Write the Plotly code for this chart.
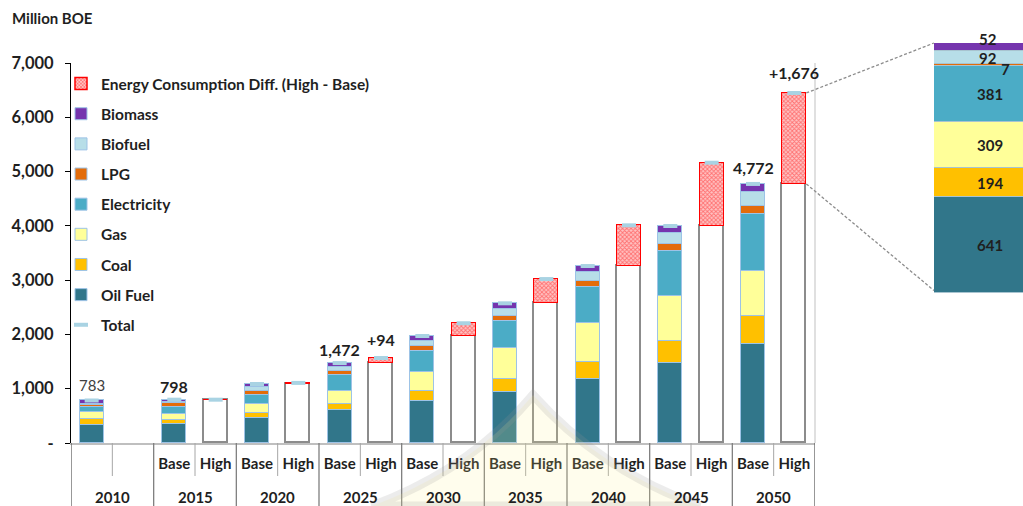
import plotly.graph_objects as go

# ---------------- data ----------------
years = ["2010", "2015", "2020", "2025", "2030", "2035", "2040", "2045", "2050"]
scenarios = ["", "", "Base", "High", "Base", "High", "Base", "High", "Base", "High",
             "Base", "High", "Base", "High", "Base", "High", "Base", "High"]

oil_fuel    = [326, 350, 455, 608, 780, 945, 1179, 1468, 1818]
coal        = [122, 74, 92, 110, 172, 234, 319, 417, 521]
gas         = [129, 104, 171, 234, 362, 565, 718, 823, 829]
electricity = [80, 129, 166, 295, 381, 503, 651, 829, 1044]
lpg         = [48, 74, 79, 79, 92, 92, 117, 129, 160]
biofuel     = [19, 19, 74, 68, 92, 129, 160, 208, 250]
biomass     = [59, 48, 50, 78, 92, 105, 116, 123, 150]

# High scenario difference above Base (2010 has no High scenario)
diff_high = [None, 0, 20, 94, 235, 447, 750, 1166, 1676]

breakdown_names = ["Oil Fuel", "Coal", "Gas", "Electricity", "LPG", "Biofuel", "Biomass"]
breakdown_2050 = [641, 194, 309, 381, 7, 92, 52]

value_labels = ["783", "798", "1,472", "+94", "4,772", "+1,676"]

yticks = [0, 1000, 2000, 3000, 4000, 5000, 6000, 7000]
yticktext = ["-", "1,000", "2,000", "3,000", "4,000", "5,000", "6,000", "7,000"]

# ---------------- layout geometry ----------------
W, H = 1023, 506
ML, MR, MT, MB = 71, 0, 30, 63
PW, PH = W - ML - MR, H - MT - MB


def px_x(px):
    return (px - ML) / PW


def px_y(py):
    return (H - MB - py) / PH


YMAX = 7000
NSLOT = 18
XDOM = [0, px_x(815)]
YDOM = [0, px_y(63)]
X2DOM = [px_x(934), 1]
Y2DOM = [px_y(293), px_y(43)]
BW = 0.58

FONT = "Lato"
TXT = "#1f1f1f"

colors = {
    "Oil Fuel": "#31768A",
    "Coal": "#FFC000",
    "Gas": "#FFFF99",
    "Electricity": "#4BACC6",
    "LPG": "#E36C0A",
    "Biofuel": "#B7DEE8",
    "Biomass": "#7535AE",
}

series = [("Oil Fuel", oil_fuel), ("Coal", coal), ("Gas", gas), ("Electricity", electricity),
          ("LPG", lpg), ("Biofuel", biofuel), ("Biomass", biomass)]
rank = {"Biomass": 2, "Biofuel": 3, "LPG": 4, "Electricity": 5, "Gas": 6, "Coal": 7, "Oil Fuel": 8}

base_x = [2 * g for g in range(len(years))]
base_tot = [sum(s[1][g] for s in series) for g in range(len(years))]

fig = go.Figure()

for name, vals in series:
    fig.add_trace(go.Bar(
        x=base_x, y=vals, width=BW, name=name, legendgroup=name, legendrank=rank[name],
        marker=dict(color=colors[name], line=dict(color="#9DC3E6", width=1)),
        hoverinfo="x+y+name",
    ))

high_x = [2 * g + 1 for g in range(1, len(years))]
high_white = [base_tot[g] for g in range(1, len(years))]
high_diff = [diff_high[g] for g in range(1, len(years))]

fig.add_trace(go.Bar(
    x=high_x, y=high_white, width=BW, name="High (Base level)", showlegend=False,
    marker=dict(color="white", line=dict(color="#8C8C8C", width=1.8)),
))
fig.add_trace(go.Bar(
    x=high_x, y=high_diff, width=BW, name="Energy Consumption Diff. (High - Base)",
    legendgroup="diff", legendrank=1,
    marker=dict(color="#FF7070", line=dict(color="#FF0000", width=1.5),
                pattern=dict(shape="x", fgcolor="#FF1A1A", bgcolor="#FFC4C4", size=3, solidity=0.5)),
))

tot_x = base_x + high_x
tot_y = base_tot + [base_tot[g] + diff_high[g] for g in range(1, len(years))]
fig.add_trace(go.Scatter(
    x=tot_x, y=tot_y, mode="markers", name="Total", legendgroup="total", legendrank=9,
    marker=dict(symbol="line-ew", size=10, color="#B7DEE8",
                line=dict(color="#A9D3E3", width=4)),
))

# ---- 2050 breakdown panel ----
for name, v in zip(breakdown_names, breakdown_2050):
    fig.add_trace(go.Bar(
        x=[0], y=[v], width=1, xaxis="x2", yaxis="y2", showlegend=False, name=name,
        marker=dict(color=colors[name], line=dict(color="#A8C4D0", width=1)),
    ))

annotations = []
# panel labels
cum = 0
for i, (name, v) in enumerate(zip(breakdown_names, breakdown_2050)):
    mid = cum + v / 2
    cum += v
    txt = str(v)
    a = dict(xref="paper", yref="y2", x=px_x(983), y=mid, text=txt, showarrow=False,
             xanchor="center", xshift=round(2.3 * len(txt)),
             font=dict(family=FONT, size=15, color=TXT, weight="bold"))
    if name == "LPG":
        a.update(x=px_x(1003), y=cum, yshift=-5)
    elif name == "Biomass":
        a.update(y=cum, yshift=4)
    annotations.append(a)

# value labels on main chart
lab_pos = [(0, 1068), (2, 1050), (6, 1731), (7, 1915), (16, 5084), (17, 6834)]
for (xs, yv), t in zip(lab_pos, value_labels):
    if t == "783":
        f = dict(family=FONT, size=15, color="#404040")
    else:
        f = dict(family=FONT, size=16, color=TXT, weight="bold")
    annotations.append(dict(xref="x", yref="y", x=xs, y=yv, text=t, showarrow=False, font=f))

# year labels
for g, yr in enumerate(years):
    annotations.append(dict(xref="x", yref="paper", x=2 * g + 0.5, y=px_y(497), text=yr,
                            showarrow=False, yanchor="middle",
                            font=dict(family=FONT, size=15, color=TXT, weight="bold")))

annotations.append(dict(xref="paper", yref="paper", x=px_x(10), y=px_y(18), text="Million BOE",
                        xanchor="left", yanchor="middle", showarrow=False,
                        font=dict(family=FONT, size=15, color=TXT, weight="bold")))

shapes = []
# separators under the axis
for k in range(NSLOT + 1):
    xb = k - 0.5
    if k % 2 == 0:
        shapes.append(dict(type="line", xref="x", yref="paper", x0=xb, x1=xb,
                           y0=px_y(443), y1=px_y(506),
                           line=dict(color="#7F7F7F" if 0 < k < NSLOT else "#606060", width=1.3)))
    else:
        shapes.append(dict(type="line", xref="x", yref="paper", x0=xb, x1=xb,
                           y0=px_y(443), y1=px_y(476), line=dict(color="#A6A6A6", width=1)))
# right border of plot area
shapes.append(dict(type="line", xref="paper", yref="paper", x0=XDOM[1], x1=XDOM[1],
                   y0=0, y1=YDOM[1], line=dict(color="#D0D0D0", width=1.3)))


# dashed connectors to breakdown panel
def xpaper(xv):
    return XDOM[0] + (xv + 0.5) / NSLOT * (XDOM[1] - XDOM[0])


def ypaper(yv):
    return YDOM[0] + yv / YMAX * (YDOM[1] - YDOM[0])


last = NSLOT - 1
top_high = base_tot[-1] + diff_high[-1]
shapes.append(dict(type="line", xref="paper", yref="paper",
                   x0=xpaper(last + BW / 2), y0=ypaper(top_high), x1=X2DOM[0], y1=Y2DOM[1],
                   line=dict(color="#8C8C8C", width=1.3, dash="3px,2px")))
shapes.append(dict(type="line", xref="paper", yref="paper",
                   x0=xpaper(last + BW / 2), y0=ypaper(base_tot[-1]), x1=X2DOM[0], y1=Y2DOM[0] + 0.006,
                   line=dict(color="#8C8C8C", width=1.3, dash="3px,2px")))


# faint background watermark (dome outline) seen in the source image
def pth(points):
    s = ""
    for cmd, pts in points:
        s += cmd + " " + " ".join(f"{px_x(a):.4f},{px_y(b):.4f}" for a, b in pts) + " "
    return s + "Z"


dome = pth([("M", [(372, 506)]), ("Q", [(470, 470), (533, 395)]), ("Q", [(600, 470), (700, 506)])])
shapes.append(dict(type="path", xref="paper", yref="paper", path=dome, layer="above",
                   fillcolor="rgba(255,240,140,0.16)", line=dict(color="rgba(150,150,150,0.18)", width=9)))

fig.update_layout(
    width=W, height=H,
    margin=dict(l=ML, r=MR, t=MT, b=MB, pad=0),
    barmode="stack",
    plot_bgcolor="white", paper_bgcolor="white",
    font=dict(family=FONT, color=TXT),
    xaxis=dict(domain=XDOM, range=[-0.5, NSLOT - 0.5], tickmode="array",
               tickvals=list(range(NSLOT)), ticktext=scenarios,
               ticks="outside", ticklen=6, tickcolor="rgba(0,0,0,0)",
               tickfont=dict(family=FONT, size=15, color=TXT, weight="bold"),
               showline=True, linecolor="#BFBFBF", linewidth=1.5, showgrid=False, zeroline=False,
               fixedrange=True),
    yaxis=dict(domain=YDOM, range=[0, YMAX], tickmode="array", tickvals=yticks, ticktext=yticktext,
               ticks="outside", ticklen=5, tickcolor="#000000", ticklabelstandoff=8,
               tickfont=dict(family=FONT, size=16.5, color=TXT, weight="bold"),
               showline=True, linecolor="#000000", linewidth=1, showgrid=False, zeroline=False),
    xaxis2=dict(domain=X2DOM, range=[-0.5, 0.408], anchor="y2", visible=False, fixedrange=True),
    yaxis2=dict(domain=Y2DOM, range=[0, sum(breakdown_2050)], anchor="x2", visible=False),
    legend=dict(x=px_x(61), y=px_y(67), xanchor="left", yanchor="top", tracegroupgap=7,
                itemwidth=30, bgcolor="rgba(0,0,0,0)",
                font=dict(family=FONT, size=15.5, color=TXT, weight="bold")),
    annotations=annotations,
    shapes=shapes,
    bargap=0,
    showlegend=True,
)

fig.write_html("out.html")
